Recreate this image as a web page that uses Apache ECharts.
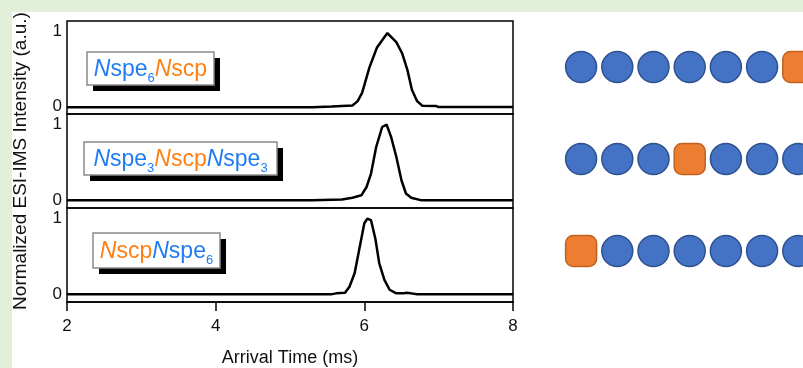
<!DOCTYPE html>
<html>
<head>
<meta charset="utf-8">
<script src="https://cdn.jsdelivr.net/npm/echarts@6/dist/echarts.min.js"></script>
<style>
  html, body { margin: 0; padding: 0; background: #e2efd9; }
  #chart { width: 803px; height: 368px; }
</style>
</head>
<body>
<div id="chart"></div>
<script>
// arrival time traces, [time (ms), normalized intensity]
const traceSpe6Scp = [[2, -0.01], [5.3, -0.01], [5.32, 0], [5.56, 0], [5.84, 0.013], [5.91, 0.07], [5.97, 0.18], [6.07, 0.52], [6.17, 0.78], [6.31, 0.97], [6.43, 0.85], [6.51, 0.7], [6.58, 0.48], [6.64, 0.22], [6.71, 0.07], [6.78, 0.01], [6.97, 0.005], [7.0, -0.008], [8, -0.008]]
const traceSpe3ScpSpe3 = [[2, 0], [5.3, 0], [5.7, 0.01], [5.84, 0.035], [5.96, 0.066], [6.03, 0.175], [6.09, 0.35], [6.16, 0.7], [6.24, 0.96], [6.3, 0.99], [6.36, 0.83], [6.43, 0.57], [6.5, 0.26], [6.56, 0.09], [6.63, 0.035], [6.77, 0], [8, 0]]
const traceScpSpe6 = [[2, 0], [5.55, 0], [5.62, 0.013], [5.74, 0.022], [5.8, 0.1], [5.87, 0.28], [5.93, 0.58], [6.0, 0.93], [6.04, 0.99], [6.09, 0.97], [6.15, 0.72], [6.2, 0.41], [6.27, 0.19], [6.34, 0.06], [6.43, 0.013], [6.53, 0.013], [6.56, 0.02], [6.63, 0.013], [6.71, 0], [8, 0]]

// monomer sequences shown on the right (one row per peptoid)
const seq1 = ['spe', 'spe', 'spe', 'spe', 'spe', 'spe', 'scp']
const seq2 = ['spe', 'spe', 'spe', 'scp', 'spe', 'spe', 'spe']
const seq3 = ['scp', 'spe', 'spe', 'spe', 'spe', 'spe', 'spe']

const xTicks = [2, 4, 6, 8]
const yLabels = ['0', '1']

const BLUE = '#1f7cf2'
const ORANGE = '#ff7f13'
const FONT = '"Liberation Sans", Arial, sans-serif'

const chart = echarts.init(document.getElementById('chart'))

const grids = [
  { left: 67, width: 446, top: 21, height: 93 },
  { left: 67, width: 446, top: 114, height: 94 },
  { left: 67, width: 446, top: 208, height: 95 }
]

function yAx(i) {
  return {
    gridIndex: i,
    type: 'value',
    min: -0.1,
    max: 1.13,
    interval: 0.1,
    axisLine: { show: false },
    axisTick: { show: false },
    splitLine: { show: false },
    axisLabel: {
      margin: 5,
      fontSize: 17,
      fontFamily: FONT,
      color: '#111',
      showMaxLabel: false,
      showMinLabel: false,
      formatter: v => Math.abs(v) < 1e-6 ? yLabels[0] : (Math.abs(v - 1) < 1e-6 ? yLabels[1] : '')
    }
  }
}

function xAx(i, visible) {
  return {
    gridIndex: i,
    type: 'value',
    min: xTicks[0],
    max: xTicks[xTicks.length - 1],
    interval: 2,
    show: visible,
    splitLine: { show: false },
    axisLine: { onZero: false, lineStyle: { color: '#000', width: 1.5 } },
    axisTick: { inside: false, length: 9, lineStyle: { color: '#000', width: 1.5 } },
    axisLabel: { margin: 16, fontSize: 17, fontFamily: FONT, color: '#111' },
    name: visible ? 'Arrival Time (ms)' : '',
    nameLocation: 'middle',
    nameGap: 47,
    nameTextStyle: { fontSize: 18, fontFamily: FONT, color: '#111' }
  }
}

const traces = [traceSpe6Scp, traceSpe3ScpSpe3, traceScpSpe6]

// build sequence scatter points
function seqPoints(kind) {
  const out = []
  ;[seq1, seq2, seq3].forEach((s, row) => {
    s.forEach((m, i) => { if (m === kind) out.push([i, row]) })
  })
  return out
}

const yAxes = [yAx(0), yAx(1), yAx(2)]
yAxes[1].name = 'Normalized ESI-IMS Intensity (a.u.)'
yAxes[1].nameLocation = 'middle'
yAxes[1].nameGap = 37
yAxes[1].nameTextStyle = { fontSize: 19, fontFamily: FONT, color: '#111' }

yAxes.push({ gridIndex: 3, type: 'value', min: -0.5, max: 2.5, inverse: true, show: false })

const xAxes = [xAx(0, false), xAx(1, false), xAx(2, true)]
xAxes.push({ gridIndex: 3, type: 'value', min: -0.5, max: 6.13, show: false })

function labelBox(x, y, w, h, rich, text) {
  return {
    type: 'group',
    children: [
      { type: 'rect', shape: { x: x + 6, y: y + 6, width: w, height: h }, style: { fill: '#000' } },
      { type: 'rect', shape: { x: x, y: y, width: w, height: h }, style: { fill: '#fff', stroke: '#8a8a8a', lineWidth: 1.5 } },
      {
        type: 'text',
        x: x + w / 2,
        y: y + h / 2 + 1,
        style: { text: text, rich: rich, align: 'center', verticalAlign: 'middle' }
      }
    ]
  }
}

const rich = {
  bi: { fontSize: 23, fontStyle: 'italic', fontFamily: FONT, fill: BLUE, lineHeight: 30 },
  b: { fontSize: 23, fontFamily: FONT, fill: BLUE, lineHeight: 30 },
  bs: { fontSize: 13, fontFamily: FONT, fill: BLUE, lineHeight: 4, verticalAlign: 'bottom' },
  oi: { fontSize: 23, fontStyle: 'italic', fontFamily: FONT, fill: ORANGE, lineHeight: 30 },
  o: { fontSize: 23, fontFamily: FONT, fill: ORANGE, lineHeight: 30 }
}

chart.setOption({
  animation: false,
  grid: grids.map(g => Object.assign({ show: true, borderColor: '#000', borderWidth: 1.5, backgroundColor: 'transparent' }, g))
    .concat([{ left: 563, right: 0, top: 21, height: 276 }]),
  xAxis: xAxes,
  yAxis: yAxes,
  graphic: [
    { type: 'rect', z: -100, shape: { x: 12, y: 12, width: 800, height: 360 }, style: { fill: '#fff' } },
    labelBox(87, 52, 127, 33, rich, '{bi|N}{b|spe}{bs|6}{oi|N}{o|scp}'),
    labelBox(84, 142, 193, 33, rich, '{bi|N}{b|spe}{bs|3}{oi|N}{o|scp}{bi|N}{b|spe}{bs|3}'),
    labelBox(93, 233, 127, 35, rich, '{oi|N}{o|scp}{bi|N}{b|spe}{bs|6}')
  ],
  series: traces.map((d, i) => ({
    type: 'line',
    xAxisIndex: i,
    yAxisIndex: i,
    data: d,
    showSymbol: false,
    lineStyle: { color: '#000', width: 2.5 },
    silent: true
  })).concat([
    {
      type: 'scatter',
      xAxisIndex: 3,
      yAxisIndex: 3,
      symbol: 'circle',
      symbolSize: 31,
      itemStyle: { color: '#4472c4', borderColor: '#2f528f', borderWidth: 1.5, opacity: 1 },
      data: seqPoints('spe')
    },
    {
      type: 'scatter',
      xAxisIndex: 3,
      yAxisIndex: 3,
      symbol: 'roundRect',
      symbolSize: 31,
      itemStyle: { color: '#ed7d31', borderColor: '#c0611f', borderWidth: 1.5, opacity: 1 },
      data: seqPoints('scp')
    }
  ])
})
</script>
</body>
</html>
